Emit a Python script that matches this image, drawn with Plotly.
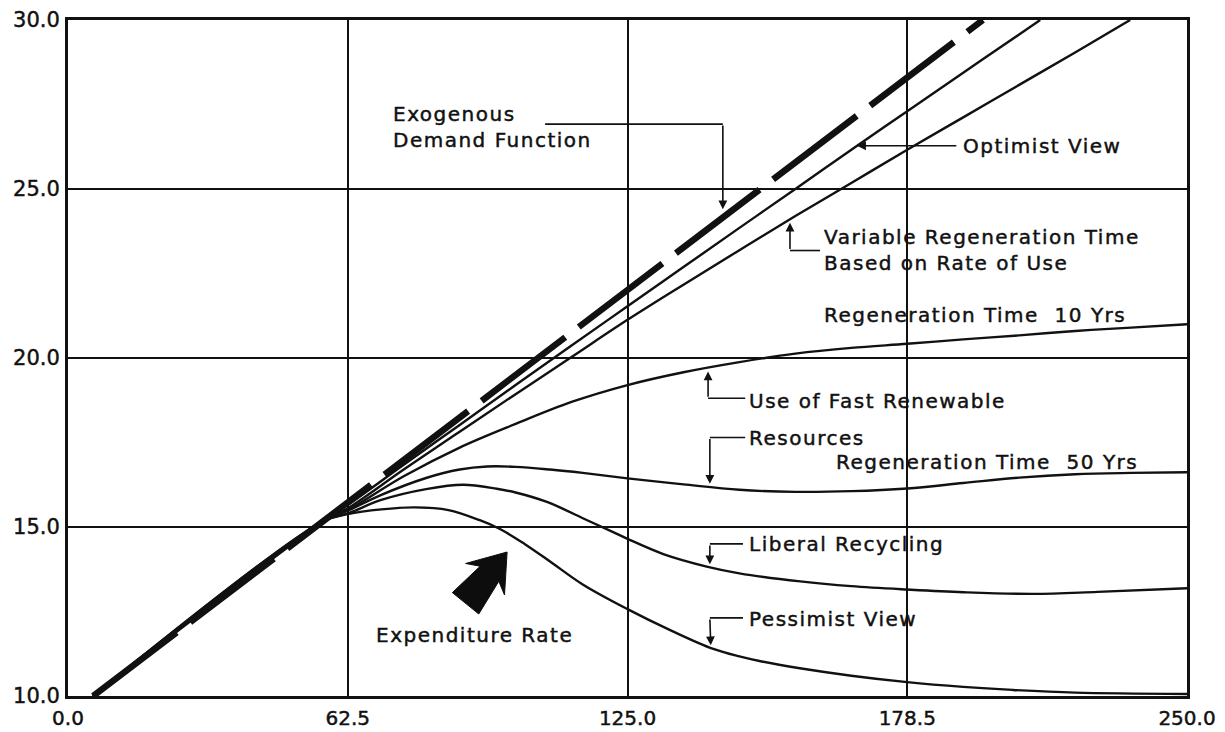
import math
import plotly.graph_objects as go

# ---------------- data ----------------
demand_x = [5.6, 204.4]
demand_y = [10.0, 30.0]

shared_x = [5.6, 57.0]
shared_y = [10.0, 15.17]

optimist_x = [62.5, 75, 87.5, 100, 112.5, 125, 137.5, 150, 162.5, 176.3, 187.5, 200, 212.5, 217.2]
optimist_y = [15.65, 16.84, 18.02, 19.2, 20.37, 21.53, 22.69, 23.85, 25.0, 26.28, 27.3, 28.44, 29.57, 30.0]

variable_x = [62.5, 75, 87.5, 100, 112.5, 125, 137.5, 150, 162.5, 175, 187.5, 200, 212.5, 225, 237.3]
variable_y = [15.55, 16.7, 17.82, 18.93, 20.03, 21.13, 22.17, 23.19, 24.2, 25.18, 26.16, 27.12, 28.08, 29.04, 30.0]

regen10_x = [62.5, 75, 87.5, 100, 112.5, 125, 137.5, 150, 162.5, 175, 187.5, 200, 212.5, 225, 237.5, 250]
regen10_y = [15.5, 16.5, 17.35, 18.05, 18.7, 19.2, 19.58, 19.88, 20.13, 20.3, 20.42, 20.55, 20.67, 20.8, 20.9, 21.0]

regen50_x = [62.5, 70, 80, 87.5, 93.6, 100, 107.7, 115, 125, 137.5, 150, 162.5, 175, 187.5, 200, 212.5, 225, 237.5, 250]
regen50_y = [15.48, 15.95, 16.45, 16.7, 16.79, 16.78, 16.7, 16.6, 16.44, 16.26, 16.1, 16.04, 16.06, 16.14, 16.3, 16.46, 16.56, 16.6, 16.62]

liberal_x = [62.5, 70, 80, 88.3, 95.8, 100, 107, 116, 121.8, 125, 133, 142.7, 150, 163.6, 175, 187.5, 200, 215.6, 230, 250]
liberal_y = [15.4, 15.8, 16.12, 16.25, 16.13, 16.02, 15.74, 15.2, 14.85, 14.65, 14.2, 13.83, 13.63, 13.39, 13.25, 13.15, 13.07, 13.02, 13.08, 13.19]

pessimist_x = [62.5, 70, 77.5, 85, 92, 96.5, 102, 107.7, 115, 125, 135, 144, 150, 155, 163.5, 175, 187.5, 200, 211, 225, 250]
pessimist_y = [15.38, 15.52, 15.58, 15.5, 15.2, 14.94, 14.5, 13.98, 13.3, 12.57, 11.92, 11.4, 11.17, 11.02, 10.82, 10.6, 10.41, 10.27, 10.18, 10.1, 10.06]

x_tickvals = [0, 62.5, 125, 187.5, 250]
x_ticktext = ["0.0", "62.5", "125.0", "178.5", "250.0"]
y_tickvals = [10, 15, 20, 25, 30]
y_ticktext = ["10.0", "15.0", "20.0", "25.0", "30.0"]

# label texts and their positions (left edge, vertical centre)
label_text = ["Exogenous<br>Demand Function", "Optimist View",
              "Variable Regeneration Time<br>Based on Rate of Use",
              "Regeneration Time  10 Yrs", "Use of Fast Renewable", "Resources",
              "Regeneration Time  50 Yrs", "Liberal Recycling", "Pessimist View",
              "Expenditure Rate"]
label_x = [72.4, 199.7, 168.7, 168.7, 151.9, 151.9, 171.4, 151.9, 151.9, 68.6]
label_y = [26.84, 26.28, 23.21, 21.27, 18.72, 17.62, 16.93, 14.5, 12.28, 11.81]

# leaders: start (near text) -> corner -> arrow tip on curve
lead_start_x = [106.6, 198.8, 168.0, 151.3, 151.3, 150.8, 150.8]
lead_start_y = [26.92, 26.28, 23.18, 18.81, 17.65, 14.5, 12.31]
lead_corner_x = [146.3, 198.8, 161.3, 143.0, 143.4, 143.4, 143.4]
lead_corner_y = [26.92, 26.28, 23.18, 18.81, 17.65, 14.5, 12.31]
lead_tip_x = [146.3, 176.3, 161.3, 143.0, 143.4, 143.4, 143.6]
lead_tip_y = [24.4, 26.28, 24.0, 19.6, 16.28, 13.9, 11.5]

# big "expenditure rate" arrow: tip (data) and direction (degrees above horizontal)
big_arrow_x = 98.1
big_arrow_y = 14.26
big_arrow_angle = 51.0

INK = "#111111"
FONT = "DejaVu Sans"

X_RANGE = [0, 250]
Y_RANGE = [10, 30]
W, H = 1225, 732
M = dict(l=68, r=38, t=20, b=36)
px_per_x = (W - M["l"] - M["r"]) / (X_RANGE[1] - X_RANGE[0])
px_per_y = (H - M["t"] - M["b"]) / (Y_RANGE[1] - Y_RANGE[0])

fig = go.Figure()

solid = [(optimist_x, optimist_y), (variable_x, variable_y), (regen10_x, regen10_y),
         (regen50_x, regen50_y), (liberal_x, liberal_y), (pessimist_x, pessimist_y)]
for cx, cy in solid:
    fig.add_trace(go.Scatter(x=shared_x + cx, y=shared_y + cy, mode="lines",
                             line=dict(color=INK, width=2.4, shape="spline", smoothing=1.0),
                             showlegend=False, hoverinfo="skip"))

fig.add_trace(go.Scatter(x=demand_x, y=demand_y, mode="lines",
                         line=dict(color=INK, width=6.5, dash="105px,17px"),
                         showlegend=False, hoverinfo="skip"))

annotations = []
for t, x, y in zip(label_text, label_x, label_y):
    annotations.append(dict(x=x, y=y, xref="x", yref="y", text=t, showarrow=False,
                            xanchor="left", yanchor="middle", align="left", borderpad=0,
                            font=dict(family=FONT, size=20, color=INK)))

shapes = []
for sx, sy, cx, cy, tx, ty in zip(lead_start_x, lead_start_y, lead_corner_x, lead_corner_y,
                                  lead_tip_x, lead_tip_y):
    if sx != cx or sy != cy:
        shapes.append(dict(type="line", xref="x", yref="y", x0=sx, y0=sy, x1=cx, y1=cy,
                           line=dict(color=INK, width=1.6)))
    annotations.append(dict(x=tx, y=ty, xref="x", yref="y", ax=cx, ay=cy, axref="x", ayref="y",
                            text="", showarrow=True, arrowhead=2, arrowsize=1.1,
                            arrowwidth=1.6, arrowcolor=INK, standoff=0))

# fat arrow outline in its own frame (pixels: along the arrow, across it)
outline = [(0, 0), (-35, -25), (-28, -12), (-66, -17), (-66, 17), (-28, 12), (-35, 25)]
ang = math.radians(big_arrow_angle)
d = (math.cos(ang), -math.sin(ang))     # screen px direction (y down)
n = (math.sin(ang), math.cos(ang))
pts = []
for a, p in outline:
    ox = a * d[0] + p * n[0]
    oy = a * d[1] + p * n[1]
    pts.append((big_arrow_x + ox / px_per_x, big_arrow_y - oy / px_per_y))
path = "M " + " L ".join(f"{x:.4f},{y:.4f}" for x, y in pts) + " Z"
shapes.append(dict(type="path", xref="x", yref="y", path=path,
                   fillcolor="#0d0d0d", line=dict(color="#0d0d0d", width=1)))

fig.update_layout(
    width=W, height=H,
    margin=dict(**M, autoexpand=False),
    paper_bgcolor="white", plot_bgcolor="white",
    annotations=annotations, shapes=shapes,
    font=dict(family=FONT, size=20, color=INK),
)
fig.update_xaxes(range=X_RANGE, tickvals=x_tickvals, ticktext=x_ticktext, automargin=False,
                 showgrid=True, gridcolor=INK, gridwidth=1.5, zeroline=False,
                 showline=True, linecolor=INK, linewidth=3, mirror=True, ticks="",
                 tickfont=dict(family=FONT, size=20, color=INK), ticklabelstandoff=2)
fig.update_yaxes(range=Y_RANGE, tickvals=y_tickvals, ticktext=y_ticktext, automargin=False,
                 showgrid=True, gridcolor=INK, gridwidth=1.5, zeroline=False,
                 showline=True, linecolor=INK, linewidth=3, mirror=True, ticks="",
                 tickfont=dict(family=FONT, size=21, color=INK), ticklabelstandoff=1)

post = ("document.body.style.margin='0';"
        "document.querySelectorAll('.annotation-text').forEach(function(t){"
        "t.style.letterSpacing='1.5px';t.style.stroke='#111';t.style.strokeWidth='0.45px';});"
        "document.querySelectorAll('.xtick text, .ytick text').forEach(function(t){"
        "t.style.stroke='#111';t.style.strokeWidth='0.45px';});")
fig.write_html("out.html", post_script=post, config={"displayModeBar": False})
